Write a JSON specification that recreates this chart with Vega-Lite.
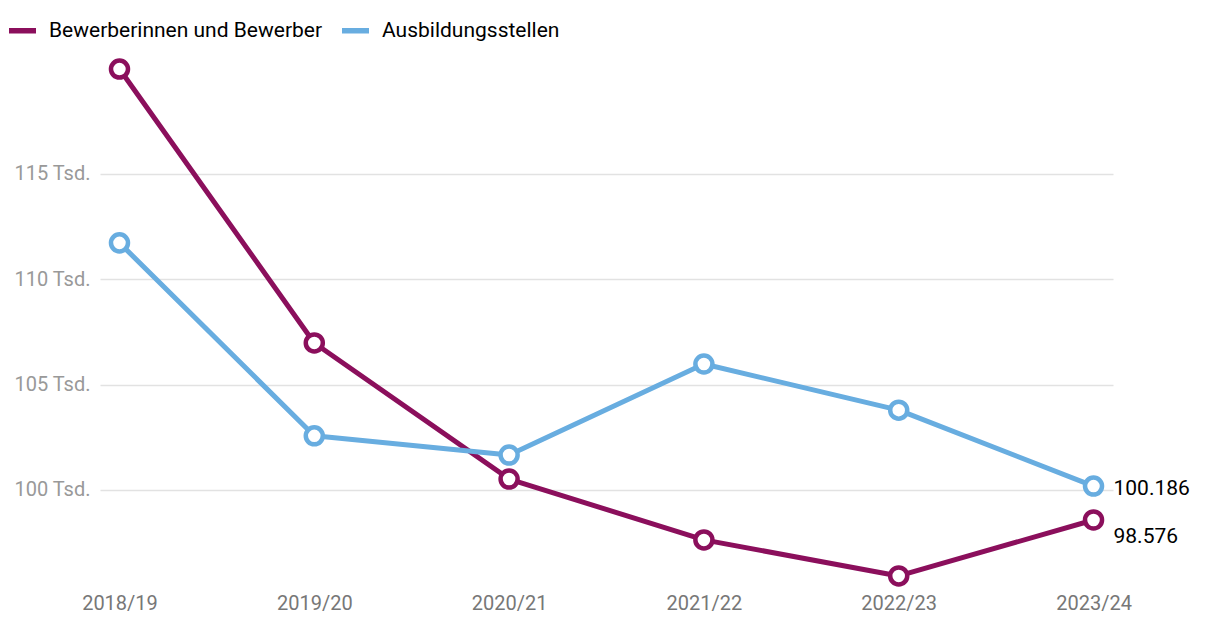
{
  "$schema": "https://vega.github.io/schema/vega-lite/v6.json",
  "width": 1013,
  "height": 525,
  "autosize": "none",
  "padding": {"left": 100, "top": 60, "right": 107, "bottom": 41},
  "background": "white",
  "config": {
    "view": {"stroke": null},
    "font": "Roboto",
    "axis": {"labelFont": "Roboto", "titleFont": "Roboto"},
    "legend": {"labelFont": "Roboto"}
  },
  "data": {
    "values": [
      {"serie": "Bewerberinnen und Bewerber", "jahr": "2018/19", "wert": 119980},
      {"serie": "Bewerberinnen und Bewerber", "jahr": "2019/20", "wert": 106980},
      {"serie": "Bewerberinnen und Bewerber", "jahr": "2020/21", "wert": 100520},
      {"serie": "Bewerberinnen und Bewerber", "jahr": "2021/22", "wert": 97630},
      {"serie": "Bewerberinnen und Bewerber", "jahr": "2022/23", "wert": 95920},
      {"serie": "Bewerberinnen und Bewerber", "jahr": "2023/24", "wert": 98576},
      {"serie": "Ausbildungsstellen", "jahr": "2018/19", "wert": 111730},
      {"serie": "Ausbildungsstellen", "jahr": "2019/20", "wert": 102570},
      {"serie": "Ausbildungsstellen", "jahr": "2020/21", "wert": 101660},
      {"serie": "Ausbildungsstellen", "jahr": "2021/22", "wert": 105980},
      {"serie": "Ausbildungsstellen", "jahr": "2022/23", "wert": 103790},
      {"serie": "Ausbildungsstellen", "jahr": "2023/24", "wert": 100186}
    ]
  },
  "encoding": {
    "x": {
      "field": "jahr",
      "type": "ordinal",
      "scale": {"type": "point", "padding": 0.1},
      "axis": {
        "title": null,
        "labelAngle": 0,
        "ticks": false,
        "domain": false,
        "grid": false,
        "labelFontSize": 20,
        "labelColor": "#777777",
        "labelPadding": 8
      }
    },
    "y": {
      "field": "wert",
      "type": "quantitative",
      "scale": {"domain": [95490, 120410], "nice": false, "zero": false},
      "axis": {
        "title": null,
        "values": [100000, 105000, 110000, 115000],
        "labelExpr": "(datum.value / 1000) + ' Tsd.'",
        "ticks": false,
        "domain": false,
        "grid": true,
        "gridColor": "#e2e2e2",
        "gridWidth": 1.5,
        "labelFontSize": 20,
        "labelColor": "#999999",
        "labelPadding": 10
      }
    }
  },
  "layer": [
    {
      "mark": {"type": "line", "strokeWidth": 5, "strokeCap": "round", "strokeJoin": "round"},
      "encoding": {
        "color": {
          "field": "serie",
          "type": "nominal",
          "scale": {
            "domain": ["Bewerberinnen und Bewerber", "Ausbildungsstellen"],
            "range": ["#8b0f5c", "#68ade0"]
          },
          "legend": {
            "title": null,
            "orient": "none",
            "legendX": -94,
            "legendY": -46,
            "direction": "horizontal",
            "symbolType": "stroke",
            "symbolSize": 729,
            "symbolStrokeWidth": 5.5,
            "labelFontSize": 21,
            "labelColor": "#000000",
            "labelOffset": 10,
            "labelLimit": 0,
            "columnPadding": 8
          }
        },
        "order": {"field": "serie", "sort": "ascending"}
      }
    },
    {
      "mark": {"type": "point", "filled": true, "fill": "white", "size": 290, "strokeWidth": 4.5, "opacity": 1, "shape": "circle"},
      "encoding": {
        "stroke": {
          "field": "serie",
          "type": "nominal",
          "scale": {
            "domain": ["Bewerberinnen und Bewerber", "Ausbildungsstellen"],
            "range": ["#8b0f5c", "#68ade0"]
          },
          "legend": null
        }
      }
    },
    {
      "transform": [
        {"filter": "datum.jahr == '2023/24' && datum.serie == 'Ausbildungsstellen'"},
        {"calculate": "replace(format(datum.wert, ','), ',', '.')", "as": "lbl"}
      ],
      "mark": {"type": "text", "align": "left", "baseline": "middle", "dx": 20, "dy": 3, "fontSize": 21, "color": "#000000"},
      "encoding": {"text": {"field": "lbl"}}
    },
    {
      "transform": [
        {"filter": "datum.jahr == '2023/24' && datum.serie == 'Bewerberinnen und Bewerber'"},
        {"calculate": "replace(format(datum.wert, ','), ',', '.')", "as": "lbl"}
      ],
      "mark": {"type": "text", "align": "left", "baseline": "middle", "dx": 20, "dy": 17, "fontSize": 21, "color": "#000000"},
      "encoding": {"text": {"field": "lbl"}}
    }
  ]
}
